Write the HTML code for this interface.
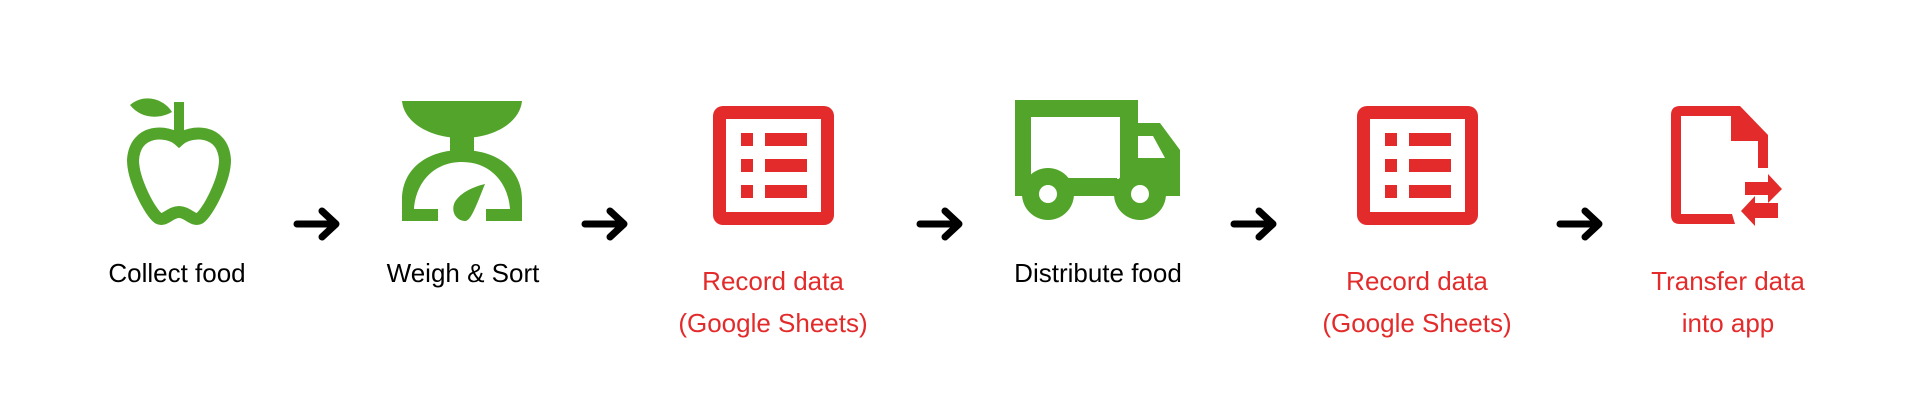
<!DOCTYPE html>
<html><head><meta charset="utf-8"><style>
html,body{margin:0;padding:0;background:#fff;}
svg{display:block}
text{font-family:"Liberation Sans",sans-serif;font-size:26px;text-anchor:middle}
</style></head><body>
<svg width="1917" height="411" viewBox="0 0 1917 411" xmlns="http://www.w3.org/2000/svg">
<g fill="#52a52a" stroke="none">
<!-- apple -->
<rect x="174" y="102" width="10" height="36"/>
<path d="M130 105 C145 92 165 100 172 112 C158 120 140 118 130 105Z"/>
<path d="M179 140 C168 130 135 128 133 160 C133 180 150 212 158 218 C165 222 170 212 179 212 C188 212 193 222 200 218 C208 212 225 180 225 160 C223 128 190 130 179 140Z" fill="none" stroke="#52a52a" stroke-width="12"/>
<!-- scale -->
<path d="M402 101 L522 101 C520 122 495 138 462 138 C429 138 404 122 402 101Z"/>
<rect x="450" y="136" width="24" height="26"/>
<path d="M402 221 L402 200 C402 168 428 150 462 150 C496 150 522 168 522 200 L522 221 L486 221 L486 209 L510 209 C508 182 490 162 462 162 C434 162 416 182 414 209 L438 209 L438 221Z"/>
<path d="M485 184 C472 187 458 194 454 204 C451 214 458 221 465 221 C471 221 476 206 485 184Z"/>
<!-- truck -->
<path d="M1015 100 L1138 100 L1138 123 L1160 123 L1180 150 L1180 196 L1015 196Z"/>
<rect x="1031" y="117" width="89" height="62" fill="#fff"/>
<path d="M1138 136 L1153 136 L1165 158 L1138 158Z" fill="#fff"/>
<rect x="1020" y="178" width="97" height="18" fill="#52a52a"/>
<circle cx="1048" cy="194" r="26"/>
<circle cx="1140" cy="194" r="26"/>
<circle cx="1048" cy="194" r="9" fill="#fff"/>
<circle cx="1140" cy="194" r="9" fill="#fff"/>
</g>
<g fill="#e32b2b">
<!-- sheet 1 -->
<rect x="713" y="106" width="121" height="119" rx="10"/>
<rect x="726" y="119" width="95" height="93" fill="#fff"/>
<rect x="741" y="133" width="12" height="13"/><rect x="765" y="133" width="42" height="13"/>
<rect x="741" y="159" width="12" height="13"/><rect x="765" y="159" width="42" height="13"/>
<rect x="741" y="185" width="12" height="13"/><rect x="765" y="185" width="42" height="13"/>
<!-- sheet 2 -->
<rect x="1357" y="106" width="121" height="119" rx="10"/>
<rect x="1370" y="119" width="95" height="93" fill="#fff"/>
<rect x="1385" y="133" width="12" height="13"/><rect x="1409" y="133" width="42" height="13"/>
<rect x="1385" y="159" width="12" height="13"/><rect x="1409" y="159" width="42" height="13"/>
<rect x="1385" y="185" width="12" height="13"/><rect x="1409" y="185" width="42" height="13"/>
<!-- file -->
<path d="M1680 106 L1740 106 L1768 135 L1768 168 L1758 168 L1758 141 L1731 141 L1731 116 L1681 116 L1681 214 L1732 214 L1735 224 L1680 224 Q1671 224 1671 215 L1671 115 Q1671 106 1680 106Z"/>
<path d="M1745 182 L1768 182 L1768 174 L1782 189 L1768 203 L1768 195 L1745 195Z"/>
<path d="M1778 203 L1755 203 L1755 196 L1741 211 L1755 226 L1755 218 L1778 218Z"/>
</g>
<!-- arrows -->
<g stroke="#000" stroke-width="7" stroke-linecap="round" stroke-linejoin="round" fill="none">
<path d="M297 224 L335 224 M322 211 L336 224 L322 237"/>
<path d="M585 224 L623 224 M610 211 L624 224 L610 237"/>
<path d="M920 224 L958 224 M945 211 L959 224 L945 237"/>
<path d="M1234 224 L1272 224 M1259 211 L1273 224 L1259 237"/>
<path d="M1560 224 L1598 224 M1585 211 L1599 224 L1585 237"/>
</g>
<g fill="#000">
<text x="177" y="282">Collect food</text>
<text x="463" y="282">Weigh &amp; Sort</text>
<text x="1098" y="282">Distribute food</text>
</g>
<g fill="#e32b2b">
<text x="773" y="290">Record data</text>
<text x="773" y="332">(Google Sheets)</text>
<text x="1417" y="290">Record data</text>
<text x="1417" y="332">(Google Sheets)</text>
<text x="1728" y="290">Transfer data</text>
<text x="1728" y="332">into app</text>
</g>
</svg>
</body></html>
